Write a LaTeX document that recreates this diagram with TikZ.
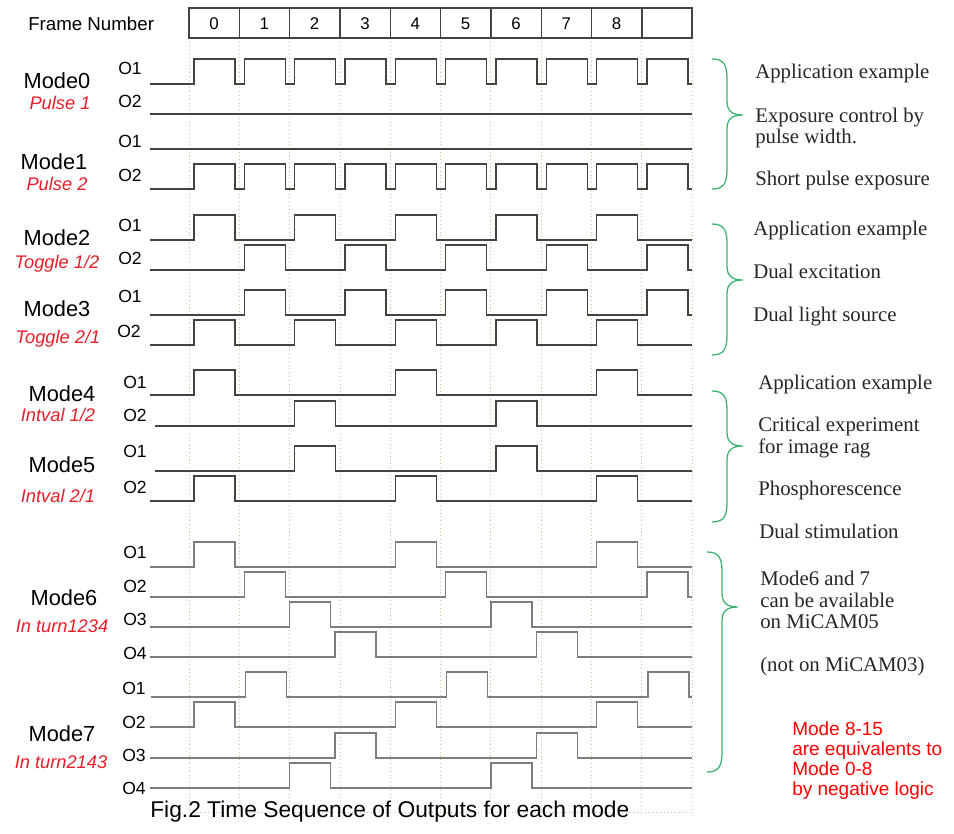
\documentclass[tikz,border=0pt]{standalone}
\usepackage{fontspec}
\setmainfont{Liberation Sans}
\newfontfamily\appfont{Liberation Serif}
\definecolor{gridgreen}{RGB}{170,215,140}
\definecolor{bracegreen}{RGB}{60,178,110}
\definecolor{tagred}{RGB}{230,30,40}
\definecolor{sigdark}{RGB}{70,66,64}
\definecolor{siglight}{RGB}{125,125,125}

% one output line: optional offset, start x, low level y, list of frames with a pulse
\newcommand{\sigwave}[4][5]{%
  \draw[sig] (#2,#3) \foreach \k in {#4} {-- ({189+50.33*\k+#1},#3) -- ++(0,-25) -- ++(41,0) -- ++(0,25)} -- (692,#3);}
% curly brace opening to the right: x, top, tip, bottom
\newcommand{\appbrace}[4]{%
  \draw[brace] (#1,#2) .. controls ({#1+12},#2) and ({#1+15},{#2+6}) .. ({#1+15},{#2+20})
    -- ({#1+15},{#3-14}) .. controls ({#1+15},{#3-4}) and ({#1+20},#3) .. ({#1+31},#3)
    .. controls ({#1+20},#3) and ({#1+15},{#3+4}) .. ({#1+15},{#3+14})
    -- ({#1+15},{#4-20}) .. controls ({#1+15},{#4-6}) and ({#1+12},#4) .. (#1,#4);}

\tikzset{
  sig/.style={draw=sigdark, line width=1pt},
  brace/.style={draw=bracegreen, line width=0.9pt},
  gridline/.style={draw=gridgreen, dotted, line width=0.7pt},
  modename/.style={anchor=base, inner sep=0pt, font=\fontsize{15.5}{18}\selectfont},
  modetag/.style={anchor=base, inner sep=0pt, text=tagred, font=\fontsize{13}{15}\selectfont\itshape},
  outlab/.style={anchor=base east, inner sep=0pt, font=\fontsize{12.5}{15}\selectfont},
  apptext/.style={anchor=base west, inner sep=0pt, text=black!85, font=\appfont\fontsize{14.8}{17}\selectfont},
  notetext/.style={anchor=base west, inner sep=0pt, text=red, font=\fontsize{13.5}{16}\selectfont},
}

\begin{document}
\begin{tikzpicture}[x=0.025cm, y=-0.025cm]
\useasboundingbox (0,0) rectangle (954,834);

% frame grid
\foreach \k in {0,...,10}
  \draw[gridline] ({189+50.33*\k},38) -- ({189+50.33*\k},812);
\draw[gridline] (189,812) -- (692,812);

% frame number header
\node[anchor=base west, inner sep=0pt, font=\fontsize{13.3}{16}\selectfont] (framehead) at (28,31) {Frame Number};
\draw[draw=sigdark, line width=0.9pt] (189,8) rectangle (692,38);
\foreach \k in {1,...,9}
  \draw[draw=sigdark, line width=0.9pt] ({189+50.33*\k},8) -- ({189+50.33*\k},38);
\foreach \k in {0,...,8}
  \node[anchor=base, inner sep=0pt, font=\fontsize{12}{14}\selectfont] (frame\k) at ({214+50.33*\k},30) {\k};

% mode names
\node[modename] (mode0) at (57,89) {Mode0};
\node[modetag] (tag0) at (60,110) {Pulse 1};
\node[modename] (mode1) at (54,170) {Mode1};
\node[modetag] (tag1) at (57,191) {Pulse 2};
\node[modename] (mode2) at (57,245) {Mode2};
\node[modetag] (tag2) at (57,268) {Toggle 1/2};
\node[modename] (mode3) at (57,316) {Mode3};
\node[modetag] (tag3) at (58,343) {Toggle 2/1};
\node[modename] (mode4) at (62,401) {Mode4};
\node[modetag] (tag4) at (58,421) {Intval 1/2};
\node[modename] (mode5) at (62,472) {Mode5};
\node[modetag] (tag5) at (58,502) {Intval 2/1};
\node[modename] (mode6) at (64,605) {Mode6};
\node[modetag] (tag6) at (62,632) {In turn1234};
\node[modename] (mode7) at (62,741) {Mode7};
\node[modetag] (tag7) at (61,768) {In turn2143};

% output labels
\node[outlab] (m0o1) at (142,75) {O1};
\node[outlab] (m0o2) at (142,108) {O2};
\node[outlab] (m1o1) at (142,148) {O1};
\node[outlab] (m1o2) at (142,182) {O2};
\node[outlab] (m2o1) at (142,231) {O1};
\node[outlab] (m2o2) at (142,265) {O2};
\node[outlab] (m3o1) at (142,302) {O1};
\node[outlab] (m3o2) at (141,337) {O2};
\node[outlab] (m4o1) at (147,388) {O1};
\node[outlab] (m4o2) at (147,421) {O2};
\node[outlab] (m5o1) at (147,457) {O1};
\node[outlab] (m5o2) at (147,493) {O2};
\node[outlab] (m6o1) at (147,558) {O1};
\node[outlab] (m6o2) at (147,592) {O2};
\node[outlab] (m6o3) at (147,625) {O3};
\node[outlab] (m6o4) at (147,659) {O4};
\node[outlab] (m7o1) at (146,694) {O1};
\node[outlab] (m7o2) at (146,728) {O2};
\node[outlab] (m7o3) at (146,761) {O3};
\node[outlab] (m7o4) at (146,794) {O4};

% Mode0 / Mode1
\sigwave{150}{84}{0,...,9}
\draw[sig] (150,114) -- (692,114);
\draw[sig] (150,149) -- (692,149);
\sigwave{150}{189}{0,...,9}
% Mode2 / Mode3
\sigwave{150}{240}{0,2,4,6,8}
\sigwave{150}{270}{1,3,5,7,9}
\sigwave{150}{315}{1,3,5,7,9}
\sigwave{150}{345}{0,2,4,6,8}
% Mode4 / Mode5
\sigwave{150}{395}{0,4,8}
\sigwave{155}{426}{2,6}
\sigwave{155}{471}{2,6}
\sigwave{150}{501}{0,4,8}
% Mode6 / Mode7
\begin{scope}[sig/.style={draw=siglight, line width=1pt}]
\sigwave{150}{567}{0,4,8}
\sigwave{150}{597}{1,5,9}
\sigwave[0]{150}{627}{2,6}
\sigwave[-5]{150}{657}{3,7}
\sigwave[6]{151}{697}{1,5,9}
\sigwave{150}{727}{0,4,8}
\sigwave[-5]{150}{758}{3,7}
\sigwave[0]{150}{788}{2,6}
\end{scope}

% braces
\appbrace{712}{59}{115}{189}
\appbrace{712}{224}{280}{355}
\appbrace{712}{391}{446}{522}
\appbrace{707}{552}{607}{772}

% application notes
\node[apptext] (app0) at (755,79) {Application example};
\node[apptext] (exp0) at (755,123) {Exposure control by};
\node[apptext] (exp1) at (755,144) {pulse width.};
\node[apptext] (short) at (755,186) {Short pulse exposure};
\node[apptext] (app2) at (753,236) {Application example};
\node[apptext] (dualex) at (753,278) {Dual excitation};
\node[apptext] (duallight) at (753,321) {Dual light source};
\node[apptext] (app4) at (758,389) {Application example};
\node[apptext] (crit0) at (758,431) {Critical experiment};
\node[apptext] (crit1) at (758,453) {for image rag};
\node[apptext] (phos) at (758,495) {Phosphorescence};
\node[apptext] (dualstim) at (759,538) {Dual stimulation};
\node[apptext] (avail0) at (760,585) {Mode6 and 7};
\node[apptext] (avail1) at (760,607) {can be available};
\node[apptext] (avail2) at (760,628) {on MiCAM05};
\node[apptext] (avail3) at (760,671) {(not on MiCAM03)};

\node[notetext] (neg0) at (792,735) {Mode 8-15};
\node[notetext] (neg1) at (792,755) {are equivalents to};
\node[notetext] (neg2) at (792,775) {Mode 0-8};
\node[notetext] (neg3) at (792,795) {by negative logic};

% caption
\node[anchor=base west, inner sep=0pt, font=\fontsize{16.2}{19}\selectfont] (caption) at (150,817) {Fig.2 Time Sequence of Outputs for each mode};
\end{tikzpicture}
\end{document}
